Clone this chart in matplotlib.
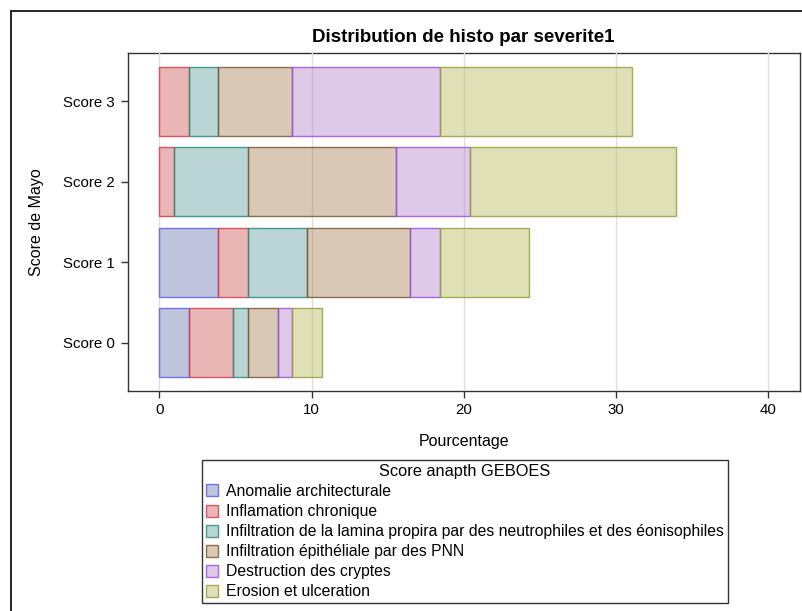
import matplotlib
matplotlib.use("Agg")
import matplotlib.pyplot as plt
from matplotlib.patches import Rectangle, Patch
import numpy as np

plt.rcParams['font.family'] = ['Liberation Sans', 'DejaVu Sans']

categories = ["Score 0", "Score 1", "Score 2", "Score 3"]
series = ["Anomalie architecturale",
          "Inflamation chronique",
          "Infiltration de la lamina propira par des neutrophiles et des éonisophiles",
          "Infiltration épithéliale par des PNN",
          "Destruction des cryptes",
          "Erosion et ulceration"]
# percentages per series, for Score 0..3
anomalie = [1.94, 3.88, 0.0, 0.0]
inflamation = [2.91, 1.94, 0.97, 1.94]
lamina = [0.97, 3.88, 4.85, 1.94]
epith = [1.94, 6.80, 9.71, 4.85]
destruction = [0.97, 1.94, 4.85, 9.71]
erosion = [1.94, 5.83, 13.59, 12.62]
values = [anomalie, inflamation, lamina, epith, destruction, erosion]

fills = ['#6F7EB3', '#D05B5B', '#66A5A0', '#A9865B', '#B689CD', '#BABC5C']
edges = ['#6060E8', '#D04050', '#2E8A80', '#7A5A35', '#A050E0', '#9AA040']

W, H = 802, 611
fig = plt.figure(figsize=(W / 100, H / 100), dpi=100)

# outer border
fig.patches.append(Rectangle((11 / W, -0.01), 1.02, 1 - 11 / H + 0.01,
                             transform=fig.transFigure, fill=False,
                             edgecolor='black', linewidth=1.2, zorder=0))

ax = fig.add_axes([127.5 / W, 1 - 391 / H, (800 - 127.5) / W, (391 - 53) / H])
y = np.arange(len(categories))
left = np.zeros(len(categories))
handles = []
for name, vals, fc, ec in zip(series, values, fills, edges):
    vals = np.array(vals)
    mask = vals > 0
    ax.barh(y[mask], vals[mask], left=left[mask], height=0.86,
            color=matplotlib.colors.to_rgba(fc, 0.45),
            edgecolor=matplotlib.colors.to_rgba(ec, 0.85), linewidth=1.0, zorder=3)
    left += vals
    handles.append(Patch(facecolor=matplotlib.colors.to_rgba(fc, 0.45),
                         edgecolor=matplotlib.colors.to_rgba(ec, 0.85),
                         linewidth=1.0, label=name))

ax.set_xlim(-2.1, 42.1)
ax.set_ylim(-0.6, 3.6)
ax.set_yticks(y)
ax.set_yticklabels(categories)
ax.set_xticks([0, 10, 20, 30, 40])
ax.grid(axis='x', color='#DDDDDD', linewidth=1.0, zorder=4)
ax.set_axisbelow(False)
for sp in ax.spines.values():
    sp.set_linewidth(1.0)
    sp.set_color('#333333')
ax.tick_params(axis='both', labelsize=10.8, colors='#333333', length=5, width=1, pad=4)
for t in ax.get_xticklabels() + ax.get_yticklabels():
    t.set_color('black')
ax.set_xlabel("Pourcentage", fontsize=11.5, labelpad=12)
ax.set_ylabel("Score de Mayo", fontsize=11.5, labelpad=14)
ax.set_title("Distribution de histo par severite1", fontsize=13.5,
             fontweight='bold', pad=8)

leg = fig.legend(handles=handles, loc='upper left',
                 bbox_to_anchor=(202 / W, 1 - 460 / H),
                 title="Score anapth GEBOES", fontsize=11.3, title_fontsize=11.8,
                 frameon=True, fancybox=False, edgecolor='black',
                 borderpad=0.25, labelspacing=0.32, handlelength=0.8,
                 handleheight=0.8, handletextpad=0.5, borderaxespad=0.0)
leg.get_frame().set_linewidth(1.0)

fig.savefig("out.png", dpi=100)
